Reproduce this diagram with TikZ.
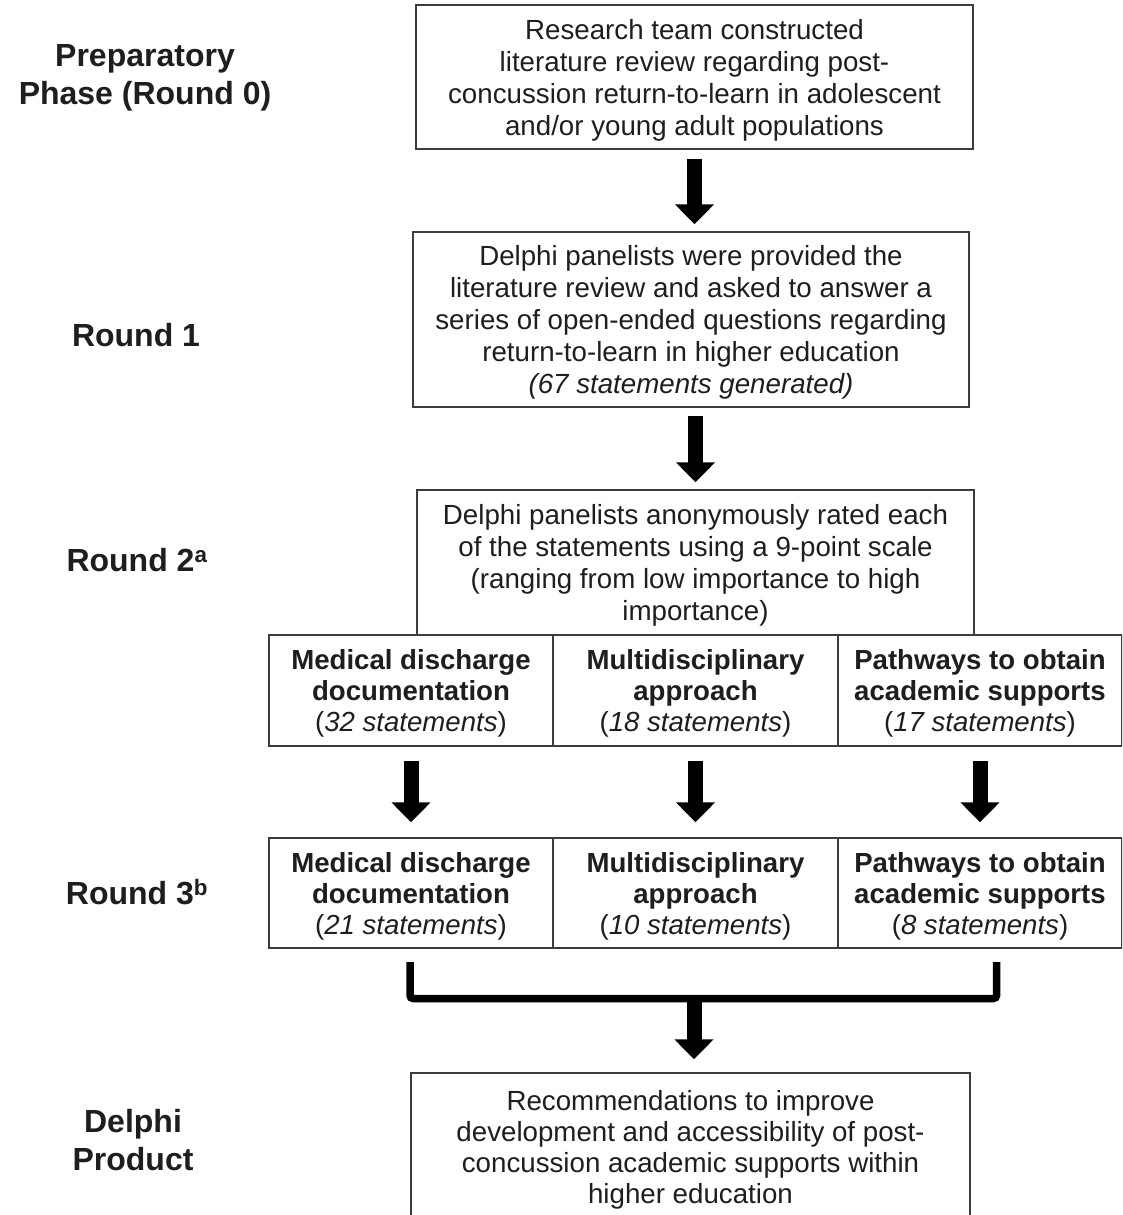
\documentclass[tikz,border=0pt]{standalone}
\usepackage{fontspec}
\setmainfont{Liberation Sans}
\usetikzlibrary{arrows.meta}
\definecolor{boxgray}{HTML}{3C3C3C}
\definecolor{txt}{HTML}{1E1E1E}
% taller first line, so that the text block sits a little lower in its box
\newcommand{\fls}{\rule{0pt}{26pt}}
\begin{document}
\begin{tikzpicture}[x=1pt,y=-1pt,
  box/.style={draw=boxgray, line width=1.4pt, align=center, inner sep=0pt,
              text=txt, font=\fontsize{27.7}{32}\selectfont},
  cell/.style={box, font=\fontsize{27.6}{31}\selectfont, minimum height=111pt},
  lab/.style={align=center, text=txt, font=\bfseries\fontsize{32}{38}\selectfont},
  bigarrow/.style={draw=black, line width=15pt,
                   -{Triangle[width=38pt,length=20pt]}},
  bracket/.style={draw=black, line width=7.5pt, rounded corners=3pt}
]
\useasboundingbox (0,0) rectangle (1122,1215);
\clip (0,0) rectangle (1122,1215);
\fill[white] (0,0) rectangle (1122,1215);

% phase labels
\node[lab] (l0) at (145,78) {Preparatory\\Phase (Round 0)};
\node[lab] (l1) at (136,335) {Round 1};
\node[lab] (l2) at (137,560) {Round 2\textsuperscript{a}};
\node[lab] (l3) at (137,892) {Round 3\textsuperscript{b}};
\node[lab] (l4) at (133,1140) {Delphi\\Product};

% main boxes
\node[box, minimum width=557pt, minimum height=144pt] (prep) at (694.5,77)
  {\fls Research team constructed\\literature review regarding post-\\concussion return-to-learn in adolescent\\and/or young adult populations};
\node[box, minimum width=556pt, minimum height=175pt] (r1) at (691,319.5)
  {\fls Delphi panelists were provided the\\literature review and asked to answer a\\series of open-ended questions regarding\\return-to-learn in higher education\\\textit{(67 statements generated)}};
\node[box, minimum width=557pt, minimum height=145pt] (r2) at (695.5,562.5)
  {\fls Delphi panelists anonymously rated each\\of the statements using a 9-point scale\\(ranging from low importance to high\\importance)};

% round 2 categories
\node[cell, minimum width=284pt] (r2a) at (411,690.5)
  {\fls\textbf{Medical discharge}\\\textbf{documentation}\\(\textit{32 statements})};
\node[cell, minimum width=285pt] (r2b) at (695.5,690.5)
  {\fls\textbf{Multidisciplinary}\\\textbf{approach}\\(\textit{18 statements})};
\node[cell, minimum width=284pt] (r2c) at (980,690.5)
  {\fls\textbf{Pathways to obtain}\\\textbf{academic supports}\\(\textit{17 statements})};

% round 3 categories
\node[cell, minimum width=284pt, minimum height=110pt] (r3a) at (411,893)
  {\fls\textbf{Medical discharge}\\\textbf{documentation}\\(\textit{21 statements})};
\node[cell, minimum width=285pt, minimum height=110pt] (r3b) at (695.5,893)
  {\fls\textbf{Multidisciplinary}\\\textbf{approach}\\(\textit{10 statements})};
\node[cell, minimum width=284pt, minimum height=110pt] (r3c) at (980,893)
  {\fls\textbf{Pathways to obtain}\\\textbf{academic supports}\\(\textit{8 statements})};

% product
\node[box, font=\fontsize{27.7}{31}\selectfont, minimum width=559pt, minimum height=147pt] (prod) at (690.5,1146.5)
  {\fls Recommendations to improve\\development and accessibility of post-\\concussion academic supports within\\higher education};

% arrows
\draw[bigarrow, shorten <=9pt, shorten >=7pt] (prep.south) -- (prep.south |- r1.north);
\draw[bigarrow, shorten <=8pt, shorten >=7pt] (r2.north |- r1.south) -- (r2.north);
\draw[bigarrow, shorten <=14pt, shorten >=15pt] (r2a.south) -- (r3a.north);
\draw[bigarrow, shorten <=14pt, shorten >=15pt] (r2b.south) -- (r3b.north);
\draw[bigarrow, shorten <=14pt, shorten >=15pt] (r2c.south) -- (r3c.north);

% bracket joining round 3 results
\coordinate (bl) at (410,962);
\coordinate (br) at (996.5,962);
\coordinate (bj) at (694,998.5);
\draw[bracket] (bl) -- (bl |- bj) -- (br |- bj) -- (br);
\draw[bigarrow, shorten >=13pt] (bj) -- (bj |- prod.north);
\end{tikzpicture}
\end{document}
